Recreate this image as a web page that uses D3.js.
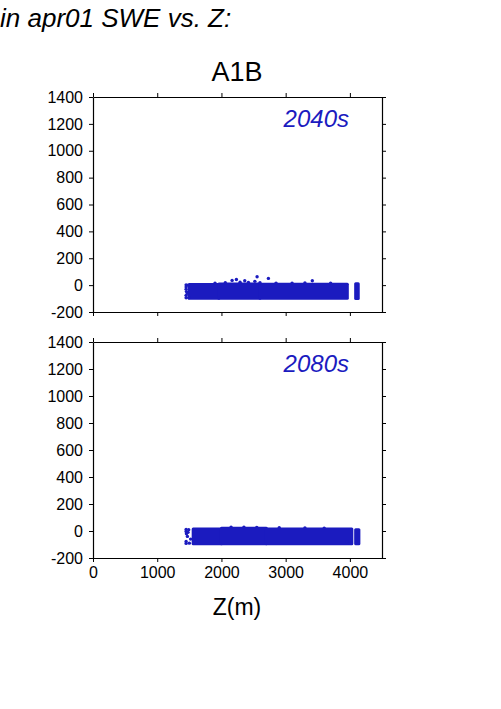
<!DOCTYPE html>
<html>
<head>
<meta charset="utf-8">
<script src="https://cdn.jsdelivr.net/npm/d3@7"></script>
<style>
  body { margin: 0; background: #fff; }
  svg { font-family: "Liberation Sans", Arial, Helvetica, sans-serif; }
</style>
</head>
<body>
<div id="chart"></div>
<script>
// axes
const zTicks = [0, 1000, 2000, 3000, 4000];
const sweTicks = [-200, 0, 200, 400, 600, 800, 1000, 1200, 1400];
const decades = ["2040s", "2080s"];

// dense core of the scatter cloud: [z start, z end, swe low, swe high]
const core2040 = [
    [1500, 1960, -98, 4],
    [1960, 2600, -98, 8],
    [2600, 3960, -98, 6],
    [4090, 4130, -100, 10]
];
const core2080 = [
    [1560, 2000, -95, 14],
    [2000, 2700, -95, 20],
    [2700, 4030, -95, 14],
    [4090, 4140, -95, 10]
];

// sparse points around the edges of the cloud [z, swe]
const pts2040 = [
    [1450, 2], [1450, -14], [1450, -30], [1455, -48], [1450, -76], [1450, -94],
    [1480, 0], [1490, -94], [1470, -60],
    [2166, 35], [2233, 42], [2363, 33], [2420, 20], [2555, 62], [2520, 28],
    [2731, 50], [2600, 18], [2850, 15], [3100, 14], [3415, 33], [3300, 16],
    [1900, 15], [2060, 18], [3700, 14], [2290, 22]
];
const pts2080 = [
    [1450, 12], [1450, -4], [1455, -20], [1450, -78], [1450, -92],
    [1490, 10], [1500, -90], [1520, -60], [1470, -40], [1480, -10],
    [2150, 28], [2350, 28], [2550, 27], [2900, 24], [3300, 22], [3600, 20],
    [3950, -80], [4000, -92]
];

const panels = [
    { label: decades[0], core: core2040, pts: pts2040, top: 97, bottom: 312 },
    { label: decades[1], core: core2080, pts: pts2080, top: 342, bottom: 558 }
];

const W = 501, H = 709;
const left = 93, right = 382;
const blue = "#1b1bbf";

const svg = d3.select("#chart").append("svg")
    .attr("width", W)
    .attr("height", H);

const x = d3.scaleLinear().domain([0, 4500]).range([left, right]);

svg.append("text")
    .attr("x", 0)
    .attr("y", 27)
    .style("font-size", "26px")
    .style("font-style", "italic")
    .text("in apr01 SWE vs. Z:");

svg.append("text")
    .attr("x", 237)
    .attr("y", 81)
    .attr("text-anchor", "middle")
    .style("font-size", "27px")
    .text("A1B");

panels.forEach((p, i) => {
    const y = d3.scaleLinear().domain([-200, 1400]).range([p.bottom, p.top]);
    const g = svg.append("g");

    // nuage de points
    g.selectAll(".core")
        .data(p.core)
        .enter()
        .append("rect")
        .attr("x", d => x(d[0]) - 1.5)
        .attr("width", d => x(d[1]) - x(d[0]) + 3)
        .attr("y", d => y(d[3]) - 1.5)
        .attr("height", d => y(d[2]) - y(d[3]) + 3)
        .attr("rx", 1.5)
        .attr("fill", blue);

    g.selectAll(".pt")
        .data(p.pts)
        .enter()
        .append("circle")
        .attr("cx", d => x(d[0]))
        .attr("cy", d => y(d[1]))
        .attr("r", 1.7)
        .attr("fill", blue);

    // axes
    const axL = g.append("g")
        .attr("transform", `translate(${left},0)`)
        .call(d3.axisLeft(y).tickValues(sweTicks).tickSize(4).tickSizeOuter(0).tickPadding(6).tickFormat(d => String(d)));
    const axR = g.append("g")
        .attr("transform", `translate(${right},0)`)
        .call(d3.axisRight(y).tickValues(sweTicks).tickSize(4).tickSizeOuter(0).tickFormat(""));
    const axT = g.append("g")
        .attr("transform", `translate(0,${p.top})`)
        .call(d3.axisTop(x).tickValues(zTicks).tickSize(4).tickSizeOuter(0).tickFormat(""));
    const axB = g.append("g")
        .attr("transform", `translate(0,${p.bottom})`)
        .call(d3.axisBottom(x).tickValues(zTicks).tickSize(4).tickSizeOuter(0).tickPadding(5)
            .tickFormat(i === 1 ? (d => String(d)) : ""));

    [axL, axR, axT, axB].forEach(a => {
        a.select(".domain").attr("stroke", "#000").attr("stroke-width", 1.2);
        a.selectAll(".tick line").attr("stroke", "#000");
        a.selectAll(".tick text")
            .attr("fill", "#000")
            .style("font-size", "16px")
            .style("font-family", "'Liberation Sans', Arial, sans-serif");
    });

    g.append("text")
        .attr("x", 349)
        .attr("y", p.top + 30)
        .attr("text-anchor", "end")
        .attr("fill", blue)
        .style("font-size", "24px")
        .style("font-style", "italic")
        .text(p.label);
});

svg.append("text")
    .attr("x", 237)
    .attr("y", 615)
    .attr("text-anchor", "middle")
    .style("font-size", "23px")
    .text("Z(m)");
</script>
</body>
</html>
